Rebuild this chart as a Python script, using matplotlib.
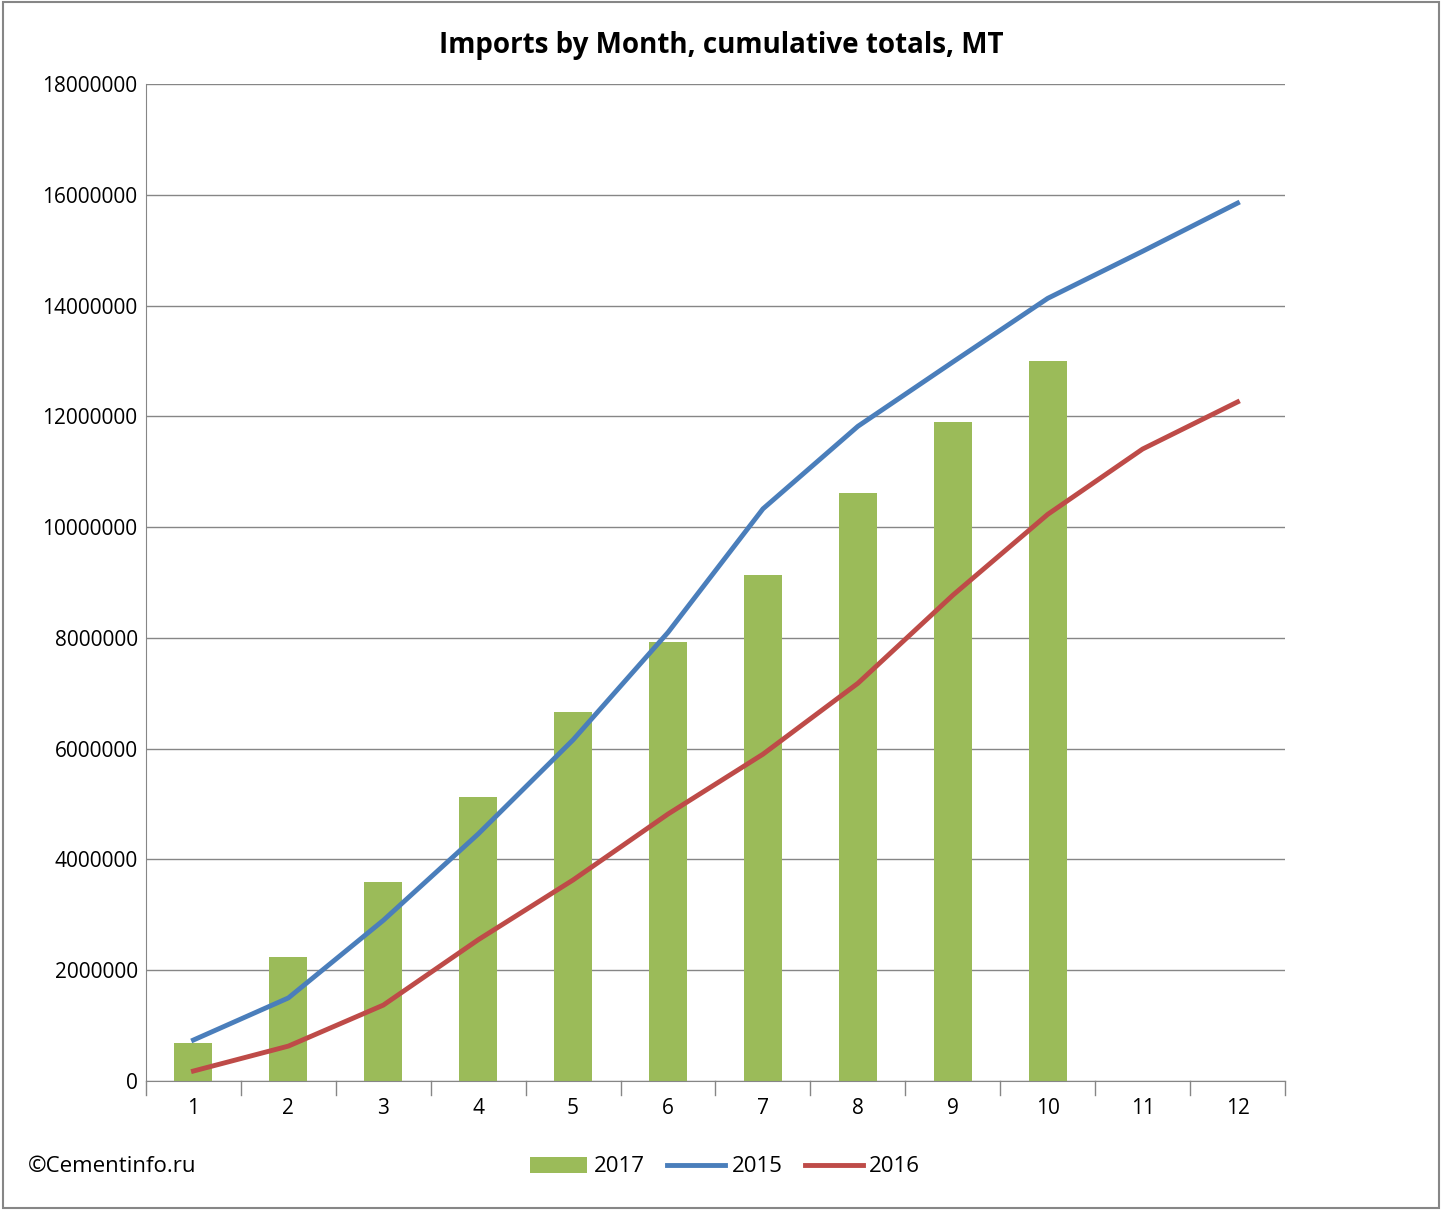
import matplotlib
matplotlib.use("Agg")
import matplotlib.pyplot as plt
from matplotlib.patches import Rectangle

months = list(range(1, 13))
v2017 = [690000, 2240000, 3590000, 5130000, 6660000, 7920000, 9130000, 10610000, 11900000, 13000000]
v2015 = [740000, 1500000, 2900000, 4460000, 6160000, 8100000, 10330000, 11820000, 12980000, 14130000, 14980000, 15850000]
v2016 = [180000, 630000, 1370000, 2550000, 3630000, 4820000, 5900000, 7180000, 8770000, 10230000, 11410000, 12260000]

plt.rcParams["font.family"] = "Open Sans"
W, H = 1442, 1210
fig = plt.figure(figsize=(W/100, H/100), dpi=100)
ax = fig.add_axes([146/W, 1-1081/H, (1285-146)/W, (1081-84)/H])

b = ax.bar(months[:len(v2017)], v2017, width=0.4, color="#9BBB59", label="2017", zorder=2)
l1, = ax.plot(months, v2015, color="#4A7EBB", lw=3.5, label="2015", zorder=3)
l2, = ax.plot(months, v2016, color="#BE4B48", lw=3.5, label="2016", zorder=3)

ax.set_xlim(0.5, 12.5)
ax.set_ylim(0, 18000000)
ax.set_yticks(range(0, 18000001, 2000000))
ax.set_yticklabels([str(v) for v in range(0, 18000001, 2000000)], fontsize=15)
ax.set_xticks(months)
ax.set_xticklabels([str(m) for m in months], fontsize=15)
ax.tick_params(axis="x", length=0, pad=12)
ax.tick_params(axis="y", length=0, pad=6)
for x in [i + 0.5 for i in range(0, 13)]:
    ax.plot([x, x], [0, -250000], color="#868686", lw=1, clip_on=False)
ax.grid(axis="y", color="#868686", lw=1, zorder=0)
for s in ["top", "right"]:
    ax.spines[s].set_visible(False)
ax.spines["left"].set_color("#868686")
ax.spines["bottom"].set_color("#868686")

fig.text(0.5, 1-46/H, "Imports by Month, cumulative totals, MT", ha="center", va="center",
         fontsize=20, fontweight="bold")
fig.text(28/W, 1-1167/H, "©Cementinfo.ru", ha="left", va="center", fontsize=16)
fig.legend(handles=[b, l1, l2], loc="center", bbox_to_anchor=(725/W, 1-1167/H), ncol=3,
           frameon=False, fontsize=16, handlelength=2.6, columnspacing=1.0, handletextpad=0.3)
fig.patches.append(Rectangle((0.002, 0.002), 0.996, 0.996, transform=fig.transFigure,
                             fill=False, edgecolor="#868686", lw=1.5))
fig.savefig("out.png", dpi=100)
